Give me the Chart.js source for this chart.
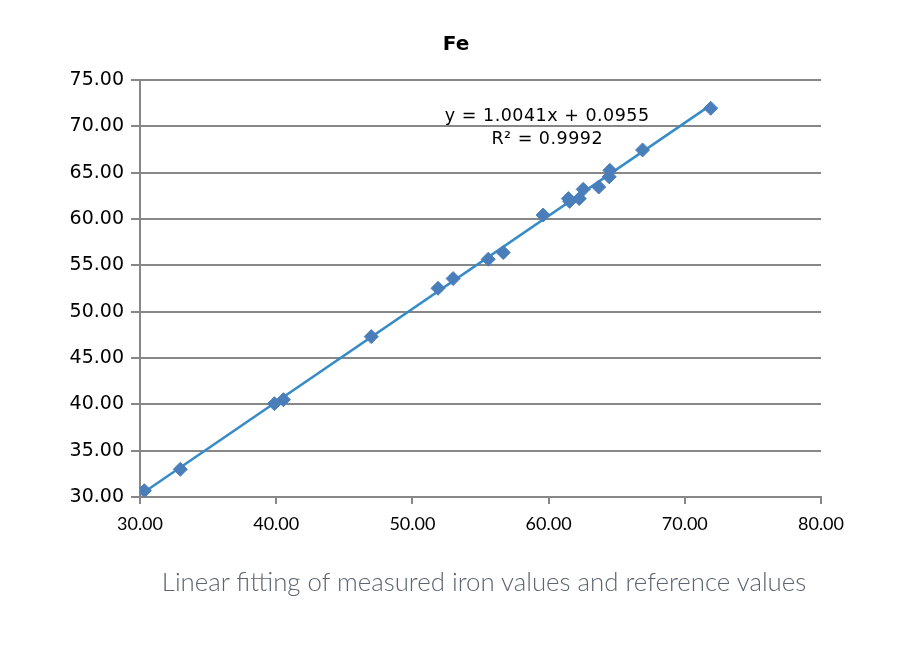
<!DOCTYPE html>
<html lang="en">

<head>
    <meta charset="UTF-8">
    <title>Fe linear fitting</title>
    <script src="https://cdn.jsdelivr.net/npm/chart.js@4.4.0/dist/chart.umd.min.js"></script>
    <style>
        body { margin: 0; background: #fff; }
        #wrap { position: relative; width: 924px; height: 646px; }
        #caption {
            position: absolute; left: 0; width: 968px; top: 566px;
            text-align: center; font-family: Lato, sans-serif; font-weight: 300;
            font-size: 25.8px; color: #5b6470;
        }
    </style>
</head>

<body>
    <div id="wrap">
        <canvas id="chart" width="924" height="646"></canvas>
        <div id="caption">Linear fitting of measured iron values and reference values</div>
    </div>
    <script>

        // measured (x) vs reference (y) iron values
        const measured = [30.32, 32.96, 39.87, 40.53, 46.98, 51.88, 52.99, 55.57, 56.67, 59.60,
            61.45, 61.55, 62.25, 62.54, 63.68, 64.45, 64.50, 66.90, 71.90];
        const reference = [30.68, 32.99, 40.07, 40.50, 47.31, 52.52, 53.57, 55.66, 56.38, 60.43,
            62.20, 61.90, 62.20, 63.20, 63.45, 64.55, 65.25, 67.45, 71.95];

        // trendline ends (y = 1.0041x + 0.0955 over the data range)
        const trendX = [30.32, 71.90];
        const trendY = [30.54, 72.29];

        const titleText = "Fe";
        const equationText = "y = 1.0041x + 0.0955";
        const r2Text = "R\u00B2 = 0.9992";
        const xTicks = [30, 40, 50, 60, 70, 80];
        const yTicks = [30, 35, 40, 45, 50, 55, 60, 65, 70, 75];

        const gridGrey = "#878787";

        // chart title (centred on the whole chart box) and the trendline label
        const textLabels = {
            id: "textLabels",
            afterDatasetsDraw(chart) {
                const ctx = chart.ctx;
                ctx.save();
                ctx.fillStyle = "#000";
                ctx.textAlign = "center";
                ctx.textBaseline = "middle";
                ctx.font = "bold 20px 'DejaVu Sans'";
                ctx.fillText(titleText, 456, 45);

                const x = chart.scales.x.getPixelForValue(59.9);
                const y = chart.scales.y.getPixelForValue(71.1);
                ctx.font = "17.5px 'DejaVu Sans'";
                ctx.letterSpacing = "0.5px";
                ctx.fillText(equationText, x, y);
                ctx.fillText(r2Text, x, y + 23);
                ctx.restore();
            }
        };

        const points = measured.map((v, i) => ({ x: v, y: reference[i] }));
        const trend = trendX.map((v, i) => ({ x: v, y: trendY[i] }));

        const ctx = document.getElementById("chart").getContext("2d");
        const myChart = new Chart(ctx, {
            type: "scatter",
            data: {
                datasets: [{
                    label: "Fe",
                    data: points,
                    pointStyle: "rectRot",
                    pointRadius: 7,
                    backgroundColor: "#4a7ebb",
                    borderColor: "#4a7ebb",
                    borderWidth: 1,
                    order: 1
                }, {
                    label: "Linear",
                    data: trend,
                    type: "line",
                    showLine: true,
                    pointRadius: 0,
                    borderColor: "#368cc9",
                    borderWidth: 2.5,
                    fill: false,
                    order: 2
                }]
            },
            options: {
                responsive: false,
                animation: false,
                layout: { padding: { top: 80, left: 0, right: 103, bottom: 109 } },
                plugins: {
                    legend: { display: false },
                    tooltip: { enabled: false },
                    title: { display: false }
                },
                scales: {
                    x: {
                        type: "linear",
                        min: 30,
                        max: 80,
                        afterBuildTicks: scale => { scale.ticks = xTicks.map(v => ({ value: v })); },
                        afterFit: scale => { scale.height = 40; },
                        grid: { drawOnChartArea: false, drawTicks: true, tickLength: 7, color: gridGrey, lineWidth: 2 },
                        border: { display: true, color: gridGrey, width: 2 },
                        ticks: {
                            padding: 9,
                            color: "#000",
                            font: { family: "Lato", size: 18 },
                            callback: v => v.toFixed(2)
                        }
                    },
                    y: {
                        type: "linear",
                        min: 30,
                        max: 75,
                        afterBuildTicks: scale => { scale.ticks = yTicks.map(v => ({ value: v })); },
                        afterFit: scale => { scale.width = 140; },
                        grid: { color: gridGrey, lineWidth: 2, tickLength: 9 },
                        border: { display: true, color: gridGrey, width: 2 },
                        ticks: {
                            padding: 7,
                            color: "#000",
                            font: { family: "'DejaVu Sans'", size: 19 },
                            callback: v => v.toFixed(2)
                        }
                    }
                }
            },
            plugins: [textLabels]
        });

    </script>
</body>

</html>
